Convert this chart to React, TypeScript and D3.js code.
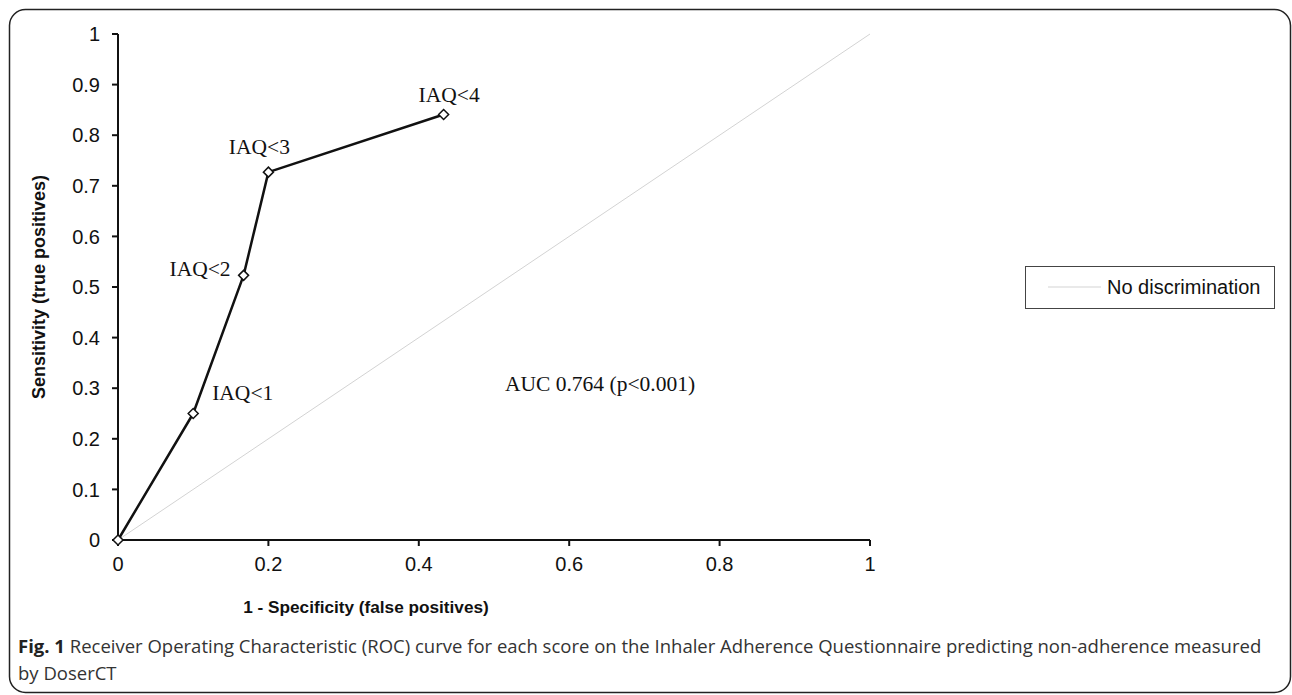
import React from "react";
import * as d3 from "d3";

const pointLabels = ["", "IAQ<1", "IAQ<2", "IAQ<3", "IAQ<4"];
const falsePositive = [0, 0.1, 0.167, 0.2, 0.433];
const truePositive = [0, 0.25, 0.523, 0.727, 0.841];
const diagonalX = [0, 1];
const diagonalY = [0, 1];
const yTicks = [0, 0.1, 0.2, 0.3, 0.4, 0.5, 0.6, 0.7, 0.8, 0.9, 1];
const xTicks = [0, 0.2, 0.4, 0.6, 0.8, 1];

// label placement relative to points (pixels)
const labelOffsets: [number, number, string][] = [
  [0, 0, "start"],
  [19, -14, "start"],
  [-13, 0.5, "end"],
  [-9, -18.5, "middle"],
  [5.5, -12, "middle"],
];

const W = 1292;
const H = 695;
const margin = { left: 118, right: 870, top: 34, bottom: 540 };

export default function App() {
  const x = d3.scaleLinear().domain([0, 1]).range([margin.left, margin.right]);
  const y = d3.scaleLinear().domain([0, 1]).range([margin.bottom, margin.top]);
  const line = d3
    .line<number>()
    .x((_, i) => x(falsePositive[i]))
    .y((_, i) => y(truePositive[i]));
  const diag = d3
    .line<number>()
    .x((_, i) => x(diagonalX[i]))
    .y((_, i) => y(diagonalY[i]));
  const fmt = (v: number) => (v === 0 || v === 1 ? String(v) : String(+v.toFixed(1)));
  const arial = "Arial, 'Liberation Sans', sans-serif";
  const times = "'Times New Roman', 'Liberation Serif', serif";
  const cap = "'Open Sans', 'Noto Sans', sans-serif";

  return (
    <div style={{ position: "absolute", left: 0, top: 0 }}>
      <svg width={W} height={H} style={{ display: "block" }}>
        <rect x={0} y={0} width={W} height={H} fill="#fff" />
        <rect x={9.5} y={9.5} width={1281} height={683} rx={16} ry={16} fill="none" stroke="#222" strokeWidth={1.5} />
        {/* diagonal */}
        <path d={diag(diagonalX) || ""} fill="none" stroke="#d3d3d3" strokeWidth={1} />
        {/* axes */}
        <line x1={x(0)} x2={x(0)} y1={y(0)} y2={y(1)} stroke="#111" strokeWidth={2} />
        <line x1={x(0)} x2={x(1)} y1={y(0)} y2={y(0)} stroke="#111" strokeWidth={2} />
        {yTicks.map((t) => (
          <g key={"y" + t}>
            <line x1={x(0) - 6} x2={x(0)} y1={y(t)} y2={y(t)} stroke="#111" strokeWidth={2} />
            <text x={100} y={y(t)} dy="0.36em" textAnchor="end" fontFamily={arial} fontSize={20} fill="#111">
              {fmt(t)}
            </text>
          </g>
        ))}
        {xTicks.map((t) => (
          <g key={"x" + t}>
            <line x1={x(t)} x2={x(t)} y1={y(0)} y2={y(0) + 6} stroke="#111" strokeWidth={2} />
            <text x={x(t)} y={571} textAnchor="middle" fontFamily={arial} fontSize={20} fill="#111">
              {fmt(t)}
            </text>
          </g>
        ))}
        {/* ROC curve */}
        <path d={line(falsePositive) || ""} fill="none" stroke="#111" strokeWidth={2.5} strokeLinejoin="round" />
        {falsePositive.map((fp, i) => {
          const cx = x(fp);
          const cy = y(truePositive[i]);
          const s = 5;
          return (
            <path
              key={"m" + i}
              d={`M${cx},${cy - s}L${cx + s},${cy}L${cx},${cy + s}L${cx - s},${cy}Z`}
              fill="#fff"
              stroke="#111"
              strokeWidth={1.5}
            />
          );
        })}
        {pointLabels.map((lab, i) =>
          lab ? (
            <text
              key={"l" + i}
              x={x(falsePositive[i]) + labelOffsets[i][0]}
              y={y(truePositive[i]) + labelOffsets[i][1]}
              textAnchor={labelOffsets[i][2] as any}
              fontFamily={times}
              fontSize={21.5}
              fill="#111"
            >
              {lab}
            </text>
          ) : null
        )}
        <text x={600} y={391} textAnchor="middle" fontFamily={times} fontSize={21.5} fill="#111">
          AUC 0.764 (p&lt;0.001)
        </text>
        {/* axis titles */}
        <text
          transform={`translate(45,287) rotate(-90)`}
          textAnchor="middle"
          fontFamily={arial}
          fontWeight="bold"
          fontSize={18}
          fill="#111"
        >
          Sensitivity (true positives)
        </text>
        <text x={366} y={613} textAnchor="middle" fontFamily={arial} fontWeight="bold" fontSize={17.2} fill="#111">
          1 - Specificity (false positives)
        </text>
        {/* legend */}
        <rect x={1025.5} y={266.5} width={249} height={42} fill="#fff" stroke="#444" strokeWidth={1} />
        <line x1={1048} x2={1101} y1={287} y2={287} stroke="#d3d3d3" strokeWidth={1} />
        <text x={1107} y={287} dy="0.36em" fontFamily={arial} fontSize={20} fill="#111">
          No discrimination
        </text>
        {/* caption */}
        <text x={18} y={653} fontFamily={cap} fontSize={18.5} fill="#333">
          <tspan fontWeight="bold" fill="#222">Fig. 1</tspan>
          <tspan> Receiver Operating Characteristic (ROC) curve for each score on the Inhaler Adherence Questionnaire predicting non-adherence measured</tspan>
        </text>
        <text x={18} y={680} fontFamily={cap} fontSize={18.5} fill="#333">
          by DoserCT
        </text>
      </svg>
    </div>
  );
}
